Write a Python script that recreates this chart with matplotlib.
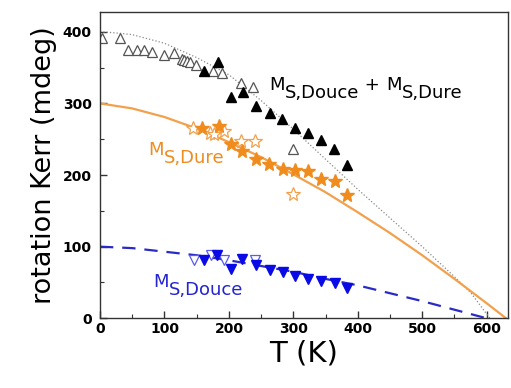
import matplotlib
matplotlib.use('Agg')
import matplotlib.pyplot as plt
import matplotlib.transforms as mtransforms
from matplotlib.ticker import MultipleLocator

# courbes
t_sum = [0, 30, 50, 100, 150, 200, 250, 300, 350, 400, 450, 500, 550, 575, 590, 605]
m_sum = [400, 398, 396, 384, 364, 340, 304, 264, 222, 180, 140, 100, 58, 36, 18, 0]
t_dure = [0, 50, 100, 150, 200, 250, 300, 350, 400, 450, 500, 550, 600, 630]
m_dure = [300, 293, 281, 265, 246, 225, 201, 176, 148, 119, 88, 55, 21, 0]
t_douce = [0, 50, 100, 150, 200, 250, 300, 350, 400, 450, 500, 550, 600]
m_douce = [100, 98, 93, 88, 81, 73, 65, 55, 46, 35, 24, 12, 0]

# M_S,Douce + M_S,Dure
t_tot_open = [3, 31, 44, 57, 69, 80, 100, 115, 127, 131, 135, 139, 149, 175, 189, 219, 238, 299]
m_tot_open = [391, 391, 375, 375, 375, 372, 367, 371, 362, 361, 359, 358, 354, 345, 342, 329, 323, 237]
t_tot = [162, 183, 203, 222, 242, 263, 283, 303, 322, 343, 363, 383]
m_tot = [345, 358, 309, 316, 296, 287, 278, 266, 258, 249, 237, 214]

# M_S,Dure
t_dure_open = [144, 170, 177, 193, 219, 240, 299]
m_dure_open = [265, 259, 257, 261, 248, 247, 174]
t_dure_pts = [159, 184, 203, 221, 242, 262, 284, 303, 323, 343, 364, 383]
m_dure_pts = [265, 268, 244, 233, 222, 216, 209, 207, 205, 195, 191, 172]

# M_S,Douce
t_douce_open = [146, 172, 193, 240]
m_douce_open = [82, 88, 81, 82]
t_douce_pts = [162, 182, 203, 221, 242, 263, 284, 302, 322, 343, 364, 384]
m_douce_pts = [81, 88, 69, 83, 74, 68, 65, 59, 55, 52, 49, 43]

orange = '#F08C1E'
bleu = '#0A0AE6'

fig = plt.figure(figsize=(5.11, 3.88), dpi=100)
ax = fig.add_axes([0.1957, 0.1796, 0.7984, 0.7902])

ax.plot(t_sum, m_sum, ':', color='#8a8a8a', lw=0.9)
ax.plot(t_dure, m_dure, '-', color='#F2A04C', lw=1.6)
ax.plot(t_douce, m_douce, '--', color='#2a2ac8', lw=1.6, dashes=(6, 4))

ax.plot(t_tot_open, m_tot_open, '^', ms=7.5, mfc='white', mec='#555555', mew=0.9, ls='none')
ax.plot(t_tot, m_tot, '^', ms=7.5, color='black', ls='none')
ax.plot(t_dure_open, m_dure_open, '*', ms=10, mfc='white', mec='#F2A04C', mew=0.9, ls='none')
ax.plot(t_dure_pts, m_dure_pts, '*', ms=10, color=orange, ls='none')
ax.plot(t_douce_open, m_douce_open, 'v', ms=7, mfc='white', mec='#5a5af0', mew=0.9, ls='none')
ax.plot(t_douce_pts, m_douce_pts, 'v', ms=7, color=bleu, ls='none')

ax.set_xlim(0, 633)
ax.set_ylim(0, 428)
ax.xaxis.set_major_locator(MultipleLocator(100))
ax.xaxis.set_minor_locator(MultipleLocator(50))
ax.yaxis.set_major_locator(MultipleLocator(100))
ax.yaxis.set_minor_locator(MultipleLocator(50))
ax.tick_params(which='both', direction='in', top=False, right=False, color='#333333')
ax.tick_params(which='major', length=5, width=1)
ax.tick_params(which='minor', length=3, width=0.8)
ax.tick_params(axis='x', pad=3)
ax.tick_params(axis='y', pad=6)
for lab in ax.get_xticklabels() + ax.get_yticklabels():
    lab.set_fontsize(10)
    lab.set_fontweight('bold')
for sp in ax.spines.values():
    sp.set_color('#333333')
    sp.set_linewidth(1)

ax.set_xlabel('T (K)', fontsize=21, labelpad=2)
ax.set_ylabel('rotation Kerr (mdeg)', fontsize=19.5, labelpad=4)

rend = fig.canvas.get_renderer()


def mlabel(x, y, parts, color):
    # morceaux de texte poses les uns apres les autres, indices abaisses
    dx = 0
    for s, dy in parts:
        tr = mtransforms.offset_copy(ax.transData, fig=fig, x=dx, y=dy, units='dots')
        t = ax.text(x, y, s, transform=tr, color=color, fontsize=13, va='baseline')
        dx += t.get_window_extent(rend).width


mlabel(263, 319, [('M', 0), ('S,Douce', -8), (' + ', 0), ('M', 0), ('S,Dure', -8)], 'black')
mlabel(75, 228, [('M', 0), ('S,Dure', -8)], orange)
mlabel(83, 44, [('M', 0), ('S,Douce', -8)], '#2424d0')

fig.savefig('out.png', dpi=100)
